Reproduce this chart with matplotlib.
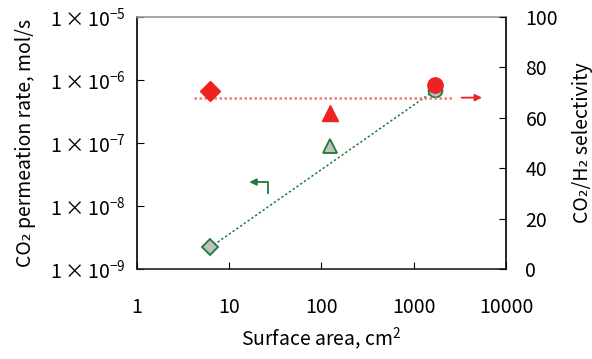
import matplotlib
matplotlib.use("Agg")
import matplotlib.pyplot as plt
import numpy as np

plt.rcParams['font.family'] = ['Noto Sans CJK JP', 'DejaVu Sans']
plt.rcParams['mathtext.fontset'] = 'custom'
plt.rcParams['mathtext.rm'] = 'Noto Sans CJK JP'
plt.rcParams['mathtext.it'] = 'Noto Sans CJK JP'

# Data
area = [6.2, 124, 1700]
permeation = [2.2e-9, 8.9e-8, 6.9e-7]
selectivity = [70.5, 62, 73]
markers = ['D', '^', 'o']
fit_area = [6.2, 1700]
fit_perm = [2.2e-9, 6.9e-7]
sel_line_area = [4.2, 2600]
sel_line_val = [68, 68]

xticks = [1, 10, 100, 1000, 10000]
xticklabels = ['1', '10', '100', '1000', '10000']
yticks = [1e-9, 1e-8, 1e-7, 1e-6, 1e-5]
yticklabels = [r'$1\times10^{-9}$', r'$1\times10^{-8}$', r'$1\times10^{-7}$',
               r'$1\times10^{-6}$', r'$1\times10^{-5}$']
y2ticks = [0, 20, 40, 60, 80, 100]

green = '#1f7a3a'
red = '#ee2222'
gray = '#c0c0c0'
FS = 14

fig = plt.figure(figsize=(5.92, 3.59), dpi=100)
ax = fig.add_axes([0.2314, 0.2507, 0.6233, 0.7019])
ax.set_xscale('log')
ax.set_yscale('log')
ax.set_xlim(1, 10000)
ax.set_ylim(1e-9, 1e-5)

ax.plot(fit_area, fit_perm, ls=(0, (1.5, 1.5)), color=green, lw=1.1, zorder=2)
sizes = {'D': 8, '^': 10, 'o': 10}
for a, p, m in zip(area, permeation, markers):
    ax.plot([a], [p], marker=m, ms=sizes[m], mfc=gray, mec=green, mew=1.3,
            ls='none', zorder=3)

ax.set_xticks(xticks)
ax.set_xticklabels(xticklabels)
ax.set_yticks(yticks)
ax.set_yticklabels(yticklabels)
ax.minorticks_off()
ax.tick_params(axis='x', direction='in', length=5, pad=20, labelsize=FS)
ax.tick_params(axis='y', direction='in', length=5, pad=8, labelsize=FS)
ax.set_xlabel('Surface area, cm$^2$', fontsize=FS, labelpad=6)
ax.set_ylabel('CO₂ permeation rate, mol/s', fontsize=FS, labelpad=10)

ax.spines['top'].set_color('#999999')
ax.spines['bottom'].set_color('#222222')
for s in ax.spines.values():
    s.set_linewidth(1.2)

# green bent arrow
ax.plot([26.5, 26.5, 19], [1.6e-8, 2.4e-8, 2.4e-8], color=green, lw=1.3, zorder=2)
ax.annotate('', xy=(16.5, 2.4e-8), xytext=(20, 2.4e-8),
            arrowprops=dict(arrowstyle='-|>', color=green, lw=1.3,
                            mutation_scale=10, shrinkA=0, shrinkB=0))

ax2 = ax.twinx()
ax2.set_ylim(0, 100)
ax2.set_yticks(y2ticks)
ax2.minorticks_off()
ax2.tick_params(axis='y', direction='in', length=5, pad=14, labelsize=FS)
ax2.set_ylabel('CO₂/H₂ selectivity', fontsize=FS, labelpad=10)
for s in ax2.spines.values():
    s.set_visible(False)

ax2.plot(sel_line_area, sel_line_val, ls=(0, (1.0, 1.0)), color='#f27a7a', lw=1.8, zorder=2)
for a, v, m in zip(area, selectivity, markers):
    ax2.plot([a], [v], marker=m, ms={'D': 10, '^': 11, 'o': 11}[m], mfc=red, mec=red,
             ls='none', zorder=3)
ax2.annotate('', xy=(5500, 68), xytext=(3300, 68),
             arrowprops=dict(arrowstyle='-|>', color=red, lw=1.3,
                             mutation_scale=10, shrinkA=0, shrinkB=0))

fig.savefig('out.png', dpi=100)
